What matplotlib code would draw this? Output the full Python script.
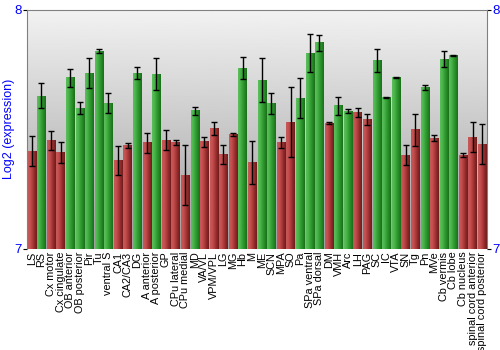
import numpy as np
import matplotlib
matplotlib.use("Agg")
import matplotlib.pyplot as plt
from matplotlib.colors import LinearSegmentedColormap

plt.rcParams['font.family'] = ['Liberation Sans', 'DejaVu Sans']

regions = ['LS', 'RS', 'Cx motor', 'Cx cingulate', 'OB anterior', 'OB posterior',
           'Pir', 'Tu', 'ventral S', 'CA1', 'CA2/CA3', 'DG', 'A anterior',
           'A posterior', 'GP', 'CPu lateral', 'CPu medial', 'MD', 'VA/VL',
           'VPM/VPL', 'LG', 'MG', 'Hb', 'M', 'ME', 'SCN', 'MPA', 'SO', 'Pa',
           'SPa ventral', 'SPa dorsal', 'DM', 'VMH', 'Arc', 'LH', 'PAG', 'SC',
           'IC', 'VTA', 'SN', 'Tg', 'Pn', 'MVe', 'Cb vermis', 'Cb lobe',
           'Cb nucleus', 'spinal cord anterior', 'spinal cord posterior']

expression = [7.409, 7.640, 7.453, 7.403, 7.716, 7.589, 7.736, 7.827, 7.610,
              7.369, 7.432, 7.735, 7.444, 7.730, 7.455, 7.444, 7.308, 7.578,
              7.448, 7.504, 7.395, 7.478, 7.755, 7.362, 7.706, 7.607, 7.445,
              7.531, 7.631, 7.819, 7.862, 7.525, 7.599, 7.577, 7.570, 7.541,
              7.787, 7.633, 7.716, 7.392, 7.499, 7.676, 7.464, 7.794, 7.808,
              7.392, 7.467, 7.437]

error = [0.062, 0.052, 0.038, 0.044, 0.037, 0.024, 0.064, 0.009, 0.042,
         0.060, 0.010, 0.025, 0.042, 0.067, 0.041, 0.010, 0.126, 0.017,
         0.021, 0.027, 0.040, 0.008, 0.046, 0.091, 0.092, 0.043, 0.024,
         0.145, 0.082, 0.078, 0.033, 0.004, 0.037, 0.009, 0.019, 0.024,
         0.048, 0.004, 0.002, 0.042, 0.067, 0.010, 0.013, 0.032, 0.002,
         0.007, 0.062, 0.084]

# bars above this level are drawn green, the rest red
threshold = 7.574

ymin, ymax = 7, 8

fig = plt.figure(figsize=(5, 3.5), dpi=100)
ax = fig.add_axes([0.054, 0.289, 0.92, 0.683])

n = len(regions)
ax.set_xlim(-0.5, n - 0.5)
ax.set_ylim(ymin, ymax)

# gray background, light at the top, darker at the bottom
bg = np.linspace(0.95, 0.62, 256).reshape(-1, 1)
ax.imshow(bg, cmap='gray', vmin=0, vmax=1, aspect='auto',
          extent=[-0.5, n - 0.5, ymin, ymax], origin='upper', zorder=0)

red_cm = LinearSegmentedColormap.from_list(
    'redbar', ['#c45a5a', '#c85050', '#b03c3c', '#8e2a2a', '#6e1c1c'])
green_cm = LinearSegmentedColormap.from_list(
    'greenbar', ['#5cbf5c', '#4cb64c', '#35a035', '#258a25', '#1a6e1a'])

w = 0.87
grad = np.linspace(0, 1, 64).reshape(1, -1)
for i, v in enumerate(expression):
    cm = green_cm if v > threshold else red_cm
    ax.imshow(grad, cmap=cm, aspect='auto', extent=[i - w / 2, i + w / 2, ymin, v],
              zorder=2, interpolation='bilinear')

ax.errorbar(range(n), expression, yerr=error, fmt='none', ecolor='black',
            elinewidth=1, capsize=2, capthick=1, zorder=3)

ax.set_xticks(range(n))
ax.set_xticklabels(regions, rotation=90, fontsize=7.8)
ax.tick_params(axis='x', length=0, pad=2)

ax.set_yticks([ymin, ymax])
ax.tick_params(axis='y', colors='black', labelcolor='#0000ff', labelsize=9.5,
               length=3, right=True, labelright=True, pad=1)
ax.set_ylabel('Log2 (expression)', color='#0000ff', fontsize=9, labelpad=-1)

for side in ['left', 'right', 'top']:
    ax.spines[side].set_color('#808080')
ax.spines['bottom'].set_visible(False)

fig.savefig('out.png', dpi=100)
